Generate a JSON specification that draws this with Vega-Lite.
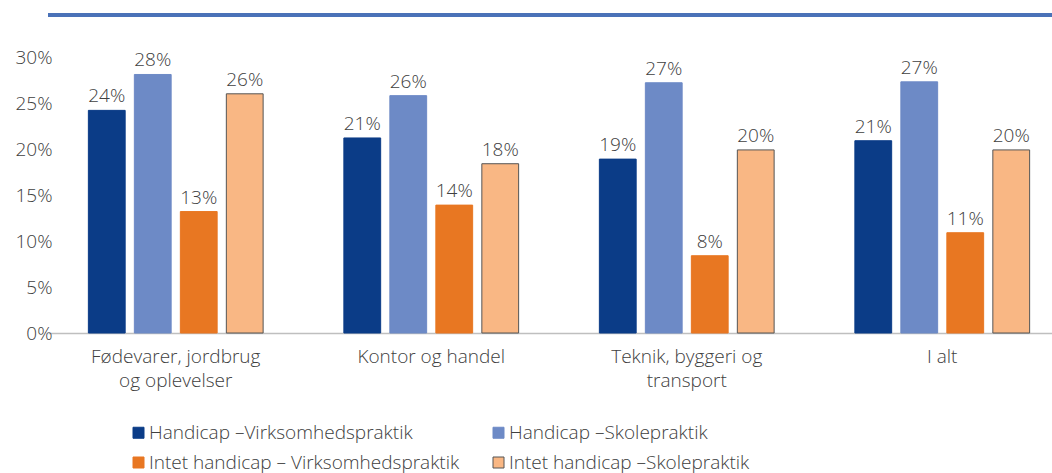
{
  "$schema": "https://vega.github.io/schema/vega-lite/v6.json",
  "autosize": {"type": "none"},
  "width": 1022,
  "height": 276,
  "padding": {"left": 48, "top": 57, "right": 0, "bottom": 140},
  "background": "white",
  "config": {
    "font": "Open Sans",
    "view": {"stroke": null},
    "text": {"font": "Open Sans"}
  },
  "data": {"values": [
    {"cat": "Fødevarer, jordbrug|og oplevelser", "series": "Handicap –Virksomhedspraktik", "v": 0.242},
    {"cat": "Fødevarer, jordbrug|og oplevelser", "series": "Handicap –Skolepraktik", "v": 0.281},
    {"cat": "Fødevarer, jordbrug|og oplevelser", "series": "Intet handicap – Virksomhedspraktik", "v": 0.132},
    {"cat": "Fødevarer, jordbrug|og oplevelser", "series": "Intet handicap –Skolepraktik", "v": 0.26},
    {"cat": "Kontor og handel", "series": "Handicap –Virksomhedspraktik", "v": 0.212},
    {"cat": "Kontor og handel", "series": "Handicap –Skolepraktik", "v": 0.258},
    {"cat": "Kontor og handel", "series": "Intet handicap – Virksomhedspraktik", "v": 0.139},
    {"cat": "Kontor og handel", "series": "Intet handicap –Skolepraktik", "v": 0.184},
    {"cat": "Teknik, byggeri og|transport", "series": "Handicap –Virksomhedspraktik", "v": 0.189},
    {"cat": "Teknik, byggeri og|transport", "series": "Handicap –Skolepraktik", "v": 0.272},
    {"cat": "Teknik, byggeri og|transport", "series": "Intet handicap – Virksomhedspraktik", "v": 0.084},
    {"cat": "Teknik, byggeri og|transport", "series": "Intet handicap –Skolepraktik", "v": 0.199},
    {"cat": "I alt", "series": "Handicap –Virksomhedspraktik", "v": 0.209},
    {"cat": "I alt", "series": "Handicap –Skolepraktik", "v": 0.273},
    {"cat": "I alt", "series": "Intet handicap – Virksomhedspraktik", "v": 0.109},
    {"cat": "I alt", "series": "Intet handicap –Skolepraktik", "v": 0.199}
  ]},
  "encoding": {
    "x": {
      "field": "cat", "type": "nominal", "sort": null,
      "scale": {"paddingInner": 0.28, "paddingOuter": 0.14},
      "axis": {
        "title": null, "labelAngle": 0, "ticks": false,
        "labelExpr": "split(datum.label, '|')",
        "labelFont": "Open Sans", "labelFontSize": 19, "labelFontWeight": 300, "labelColor": "#404040",
        "labelLineHeight": 24, "labelPadding": 14,
        "domainColor": "#bfbfbf", "domainWidth": 1.5
      }
    },
    "y": {
      "field": "v", "type": "quantitative",
      "scale": {"domain": [0, 0.3], "nice": false},
      "axis": {
        "title": null, "values": [0, 0.05, 0.1, 0.15, 0.2, 0.25, 0.3], "format": ".0%",
        "grid": false, "domain": false, "ticks": false, "labelPadding": -4,
        "labelFont": "Open Sans", "labelFontSize": 19, "labelFontWeight": 300, "labelColor": "#404040"
      }
    },
    "xOffset": {
      "field": "series", "type": "nominal", "sort": null,
      "scale": {"paddingInner": 0.2, "paddingOuter": 0.1}
    }
  },
  "layer": [
    {
      "mark": {"type": "bar", "strokeWidth": 1},
      "encoding": {
        "color": {
          "field": "series", "type": "nominal", "sort": null,
          "scale": {
            "domain": ["Handicap –Virksomhedspraktik", "Handicap –Skolepraktik", "Intet handicap – Virksomhedspraktik", "Intet handicap –Skolepraktik"],
            "range": ["#0B3C87", "#6D8AC6", "#E87722", "#F9B784"]
          },
          "legend": {
            "title": null, "orient": "none", "legendX": 81, "legendY": 366,
            "direction": "horizontal", "columns": 2, "columnPadding": 29, "rowPadding": 10,
            "symbolType": "square", "symbolSize": 121, "symbolStrokeWidth": 1, "labelLimit": 0,
            "labelFont": "Open Sans", "labelFontSize": 19, "labelFontWeight": 300, "labelColor": "#404040", "labelOffset": 1
          }
        },
        "stroke": {
          "field": "series", "type": "nominal", "sort": null,
          "scale": {
            "domain": ["Handicap –Virksomhedspraktik", "Handicap –Skolepraktik", "Intet handicap – Virksomhedspraktik", "Intet handicap –Skolepraktik"],
            "range": ["#0B3C87", "#6D8AC6", "#E87722", "#555555"]
          }
        }
      }
    },
    {
      "mark": {"type": "text", "baseline": "bottom", "dy": -4, "fontSize": 19, "fontWeight": 300, "color": "#404040"},
      "encoding": {
        "text": {"field": "v", "type": "quantitative", "format": ".0%"}
      }
    },
    {
      "mark": {"type": "rule", "color": "#4A72B8", "strokeWidth": 3},
      "encoding": {
        "y": {"datum": 0.3457},
        "x": null,
        "xOffset": null
      }
    }
  ]
}
